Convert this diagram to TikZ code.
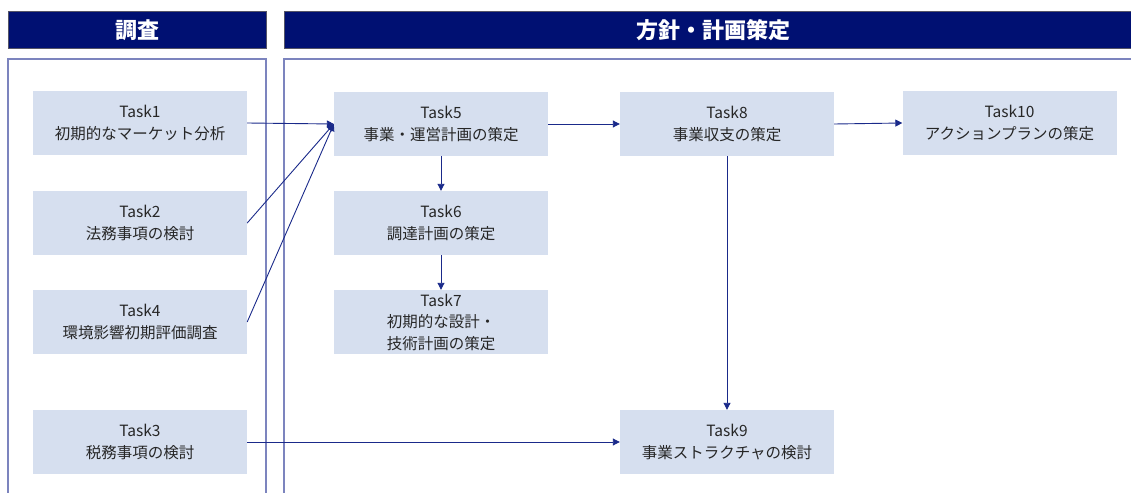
\documentclass[tikz,border=0pt]{standalone}
\usepackage{fontspec}
\setmainfont{Noto Sans CJK JP}
\usetikzlibrary{arrows.meta}
\definecolor{navy}{HTML}{001072}
\definecolor{arrowc}{HTML}{1A2A8A}
\definecolor{boxfill}{HTML}{D6DFEF}
\definecolor{panelc}{HTML}{7C84BE}
\definecolor{hdrborder}{HTML}{555566}
\tikzset{
  header/.style={draw=hdrborder, line width=0.8pt, fill=navy},
  hdrtext/.style={text=white, font=\fontsize{22}{26}\selectfont\bfseries},
  panel/.style={draw=panelc, line width=1.2pt},
  task/.style={fill=boxfill, draw=none, minimum width=214pt, minimum height=64pt, inner sep=0pt, align=center, text=black!85, font=\fontsize{15.5}{21.5}\selectfont},
  conn/.style={draw=arrowc, line width=0.9pt, -{Triangle[length=7pt,width=7pt]}}
}
\begin{document}
\begin{tikzpicture}[x=1pt,y=-1pt]
\useasboundingbox (0,0) rectangle (1131,492);
% headers
\path[header] (8,11) rectangle (266,48);
\node[hdrtext] (h1) at (137,30) {調査};
\path[header] (284,11) rectangle (1140,48);
\node[hdrtext] (h2) at (713,30) {方針・計画策定};
% panels
\draw[panel] (8,500) -- (8,59) -- (266,59) -- (266,500);
\draw[panel] (284,500) -- (284,59) -- (1140,59);
% tasks
\node[task] (t1) at (140,123) {Task1\\初期的なマーケット分析};
\node[task] (t2) at (140,223) {Task2\\法務事項の検討};
\node[task] (t4) at (140,322) {Task4\\環境影響初期評価調査};
\node[task] (t3) at (140,442) {Task3\\税務事項の検討};
\node[task] (t5) at (441,124) {Task5\\事業・運営計画の策定};
\node[task] (t6) at (441,223) {Task6\\調達計画の策定};
\node[task] (t7) at (441,322) {Task7\\初期的な設計・\\技術計画の策定};
\node[task] (t8) at (727,124) {Task8\\事業収支の策定};
\node[task] (t10) at (1009.5,123) {Task10\\アクションプランの策定};
\node[task] (t9) at (727,442) {Task9\\事業ストラクチャの検討};
% connectors
\draw[conn] (t1.east) -- (t5.west);
\draw[conn] (t2.east) -- (t5.west);
\draw[conn] (t4.east) -- (t5.west);
\draw[conn] (t3.east) -- (t9.west);
\draw[conn] (t5.east) -- (t8.west);
\draw[conn] (t8.east) -- (t10.west);
\draw[conn] (t5.south) -- (t6.north);
\draw[conn] (t6.south) -- (t7.north);
\draw[conn] (t8.south) -- (t9.north);
\end{tikzpicture}
\end{document}
